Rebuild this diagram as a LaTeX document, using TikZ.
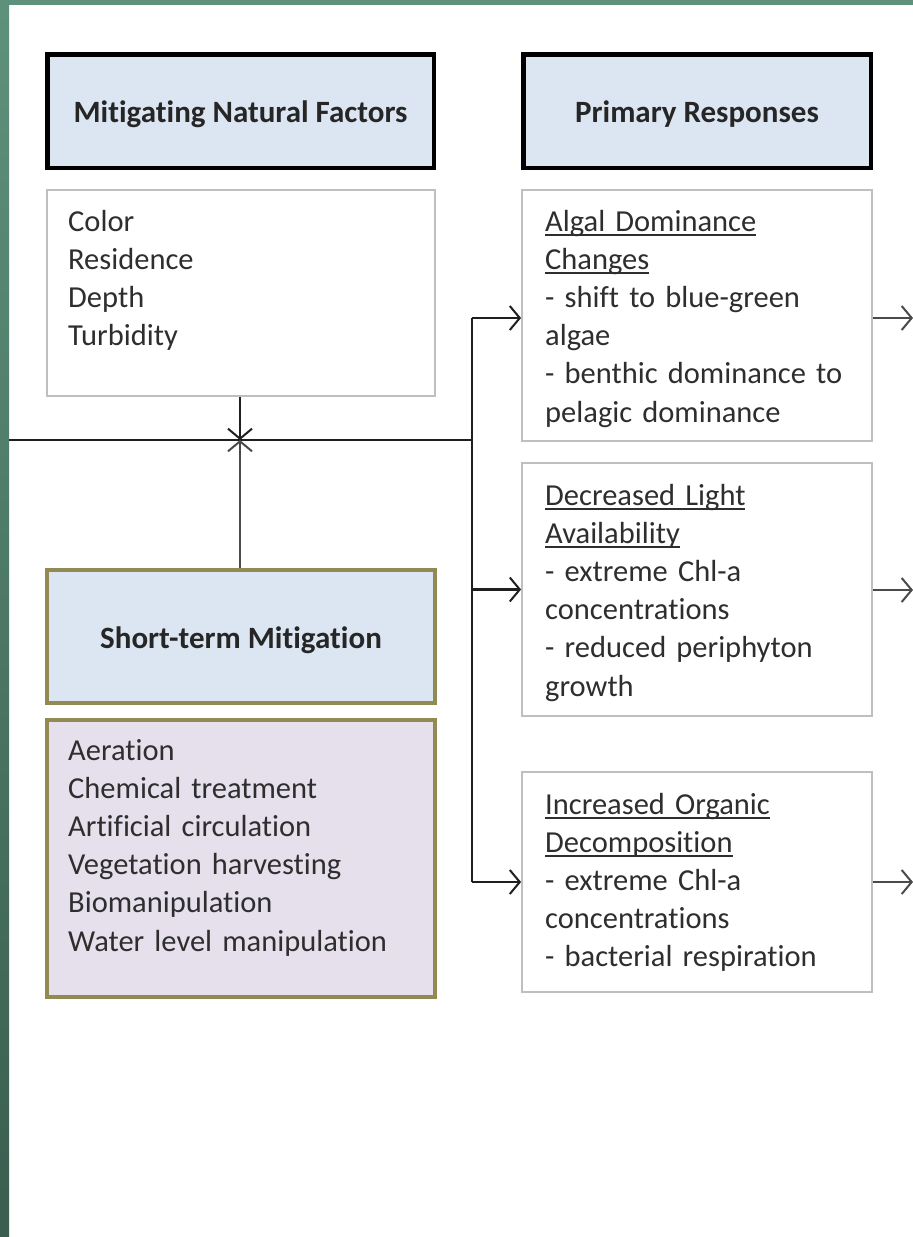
\documentclass[tikz,border=0pt]{standalone}
\usepackage{fontspec}
\setmainfont{Carlito}[Ligatures=NoCommon]
\usetikzlibrary{arrows.meta}
\definecolor{hdrfill}{HTML}{DCE6F2}
\definecolor{lavfill}{HTML}{E5E0EC}
\definecolor{olive}{HTML}{938953}
\definecolor{boxgray}{HTML}{BFBFBF}
\definecolor{greentop}{HTML}{5E917B}
\definecolor{greenbot}{HTML}{3A5E4F}
\definecolor{linegray}{HTML}{4A4A4A}
\newcommand{\ulx}[1]{\leavevmode\setbox0\hbox{#1}\rlap{\rule[-4.5pt]{\wd0}{2pt}}\box0}
\tikzset{
  hdrbox/.style={draw=black, line width=4.5pt, fill=hdrfill, inner sep=0pt},
  txtbox/.style={draw=boxgray, line width=1.8pt, fill=white, inner sep=0pt},
  olvbox/.style={draw=olive, line width=4pt, inner sep=0pt},
  hdrtxt/.style={font=\fontsize{31}{36}\selectfont\bfseries, text=black!85, yshift=-3.5pt},
  bodytxt/.style={font=\fontsize{30.5}{38.2}\selectfont, text=black!82, inner sep=0pt, anchor=base west, text width=340pt, align=left},
  conn/.style={line width=2.2pt, draw=black!88},
  arr/.style={conn, -{Straight Barb[length=10pt,width=24pt,line width=2pt]}},
}
\begin{document}
\begin{tikzpicture}[x=1pt,y=-1pt]
\useasboundingbox (0,0) rectangle (913,1237);
\fill[white] (0,0) rectangle (913,1237);
% green frame
\shade[top color=greentop, bottom color=greenbot] (0,0) rectangle (9,1237);
\fill[greentop] (0,0) rectangle (913,5);

% left column
\node[hdrbox, minimum width=386.5pt, minimum height=113.5pt] (mnf) at (240.5,111) {};
\node[hdrtxt] (mnft) at (mnf.center) {Mitigating Natural Factors};
\node[txtbox, minimum width=388pt, minimum height=206pt] (ncl) at (241,293) {};
\node[bodytxt] (nclt) at (68,231) {Color\\Residence\\Depth\\Turbidity};

\node[olvbox, fill=hdrfill, minimum width=388pt, minimum height=133pt] (stm) at (241,636.5) {};
\node[hdrtxt] (stmt) at (stm.center) {Short-term Mitigation};
\node[olvbox, fill=lavfill, minimum width=388pt, minimum height=277pt] (stl) at (241,858.5) {};
\node[bodytxt] (stlt) at (68,760) {Aeration\\Chemical treatment\\Artificial circulation\\Vegetation harvesting\\Biomanipulation\\Water level manipulation};

% right column
\node[hdrbox, minimum width=347.5pt, minimum height=113.5pt] (pr) at (697,111) {};
\node[hdrtxt] (prt) at (pr.center) {Primary Responses};
\node[txtbox, minimum width=350pt, minimum height=251pt] (alg) at (697,315.5) {};
\node[bodytxt] (algt) at (545,231) {\ulx{Algal Dominance}\\\ulx{Changes}\\- shift to blue-green\\algae\\- benthic dominance to\\pelagic dominance};
\node[txtbox, minimum width=350pt, minimum height=253pt] (dla) at (697,589.5) {};
\node[bodytxt] (dlat) at (545,505) {\ulx{Decreased Light}\\\ulx{Availability}\\- extreme Chl-a\\concentrations\\- reduced periphyton\\growth};
\node[txtbox, minimum width=350pt, minimum height=220pt] (ioc) at (697,882) {};
\node[bodytxt] (ioct) at (545,814) {\ulx{Increased Organic}\\\ulx{Decomposition}\\- extreme Chl-a\\concentrations\\- bacterial respiration};

% connectors
\coordinate (lft) at (9,440);
\coordinate (cross) at (240,440);
\coordinate (jn) at (472,440);
\coordinate (j1) at (472,318);
\coordinate (j3) at (472,882);
\coordinate (o1) at (913,318);
\coordinate (o2) at (913,590);
\coordinate (o3) at (913,882);
\draw[conn] (lft) -- (jn);
\draw[conn] (j1) -- (j3);
\draw[arr] (ncl.south -| cross) -- (cross);
\draw[arr, draw=linegray] (stm.north -| cross) -- (cross);
\draw[arr] (j1) -- (j1 -| alg.west);
\draw[arr] (jn |- dla.west) -- (dla.west);
\draw[arr] (j3) -- (j3 -| ioc.west);
\draw[arr, draw=linegray] (alg.east |- o1) -- (o1);
\draw[arr, draw=linegray] (dla.east |- o2) -- (o2);
\draw[arr, draw=linegray] (ioc.east |- o3) -- (o3);
\end{tikzpicture}
\end{document}
